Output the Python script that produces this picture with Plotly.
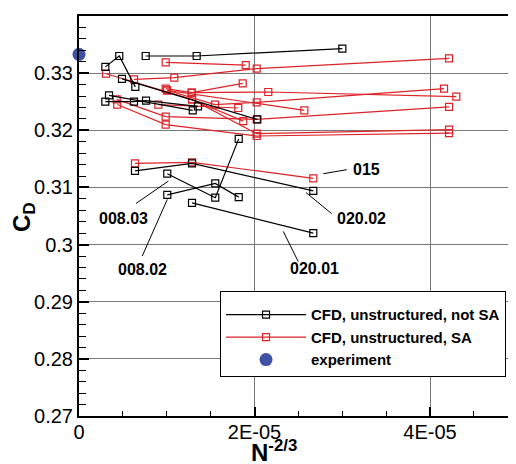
import plotly.graph_objects as go

# ---- data (x = N^-2/3, y = C_D) ----
# CFD, unstructured, not SA (black)
k1_x = [0.760e-5, 1.341e-5, 3.001e-5]; k1_y = [0.3330, 0.3330, 0.3343]
k2_x = [0.300e-5, 0.459e-5, 0.642e-5]; k2_y = [0.3311, 0.3330, 0.3276]
k3_x = [0.490e-5, 2.032e-5];           k3_y = [0.3290, 0.3219]
k4_x = [0.342e-5, 1.296e-5];           k4_y = [0.3261, 0.3235]
k5_x = [0.300e-5, 0.627e-5, 0.764e-5, 1.356e-5]; k5_y = [0.3250, 0.3250, 0.3252, 0.3242]
k_020_02_x = [0.638e-5, 1.288e-5, 2.670e-5]; k_020_02_y = [0.3129, 0.3142, 0.3094]
k_008_03_x = [1.006e-5, 1.553e-5, 1.820e-5]; k_008_03_y = [0.3124, 0.3082, 0.3185]
k_008_02_x = [1.006e-5, 1.553e-5, 1.820e-5]; k_008_02_y = [0.3087, 0.3107, 0.3083]
k_020_01_x = [1.288e-5, 2.670e-5];           k_020_01_y = [0.3073, 0.3020]

# CFD, unstructured, SA (red)
r_015_x = [0.638e-5, 1.288e-5, 2.670e-5]; r_015_y = [0.3142, 0.3144, 0.3116]
ra_x = [0.988e-5, 1.900e-5];                       ra_y = [0.3319, 0.3314]
rb_x = [0.627e-5, 1.086e-5, 2.025e-5, 4.217e-5];   rb_y = [0.3289, 0.3292, 0.3308, 0.3326]
rc_x = [0.988e-5, 1.284e-5, 2.157e-5, 4.300e-5];   rc_y = [0.3273, 0.3266, 0.3267, 0.3259]
rd_x = [1.003e-5, 1.550e-5, 2.025e-5, 4.160e-5];   rd_y = [0.3270, 0.3245, 0.3249, 0.3273]
re_x = [0.308e-5, 1.288e-5, 2.025e-5, 4.217e-5];   re_y = [0.3299, 0.3254, 0.3194, 0.3201]
rf_x = [0.436e-5, 0.988e-5, 2.025e-5, 4.217e-5];   rf_y = [0.3245, 0.3210, 0.3190, 0.3195]
rg_x = [0.430e-5, 0.988e-5, 2.025e-5, 4.217e-5];   rg_y = [0.3254, 0.3224, 0.3219, 0.3241]
rh_x = [0.904e-5, 1.815e-5]; rh_y = [0.3245, 0.3239]
ri_x = [1.284e-5, 1.866e-5]; ri_y = [0.3266, 0.3282]
rj_x = [1.288e-5, 1.872e-5]; rj_y = [0.3254, 0.3216]
rk_x = [1.003e-5, 2.568e-5]; rk_y = [0.3270, 0.3235]

# experiment
exp_x = [0.0]; exp_y = [0.3333]

# axis ticks
x_tickvals = [0, 2e-5, 4e-5]; x_ticktext = ["0", "2E-05", "4E-05"]
y_tickvals = [0.27, 0.28, 0.29, 0.30, 0.31, 0.32, 0.33, 0.34]
y_ticktext = ["0.27", "0.28", "0.29", "0.3", "0.31", "0.32", "0.33", "0.34"]

# case labels: (text, text x, text y, pointer x0, y0, x1, y1)
case_labels = [
    ("015",    3.271e-5, 0.3131, 2.784e-5, 0.3124, 3.051e-5, 0.3131),
    ("020.02", 3.214e-5, 0.3045, 2.587e-5, 0.3091, 2.880e-5, 0.3054),
    ("008.03", 0.505e-5, 0.3045, 0.650e-5, 0.3072, 1.018e-5, 0.3111),
    ("008.02", 0.724e-5, 0.2957, 0.721e-5, 0.2980, 1.006e-5, 0.3079),
    ("020.01", 2.678e-5, 0.2958, 2.328e-5, 0.3023, 2.499e-5, 0.2970),
]

BLACK = "#000000"
RED = "#dc2328"
BLUE = "#3f51a5"
FONT = "Liberation Sans, Arial, sans-serif"

fig = go.Figure()

red_series = [(r_015_x, r_015_y), (ra_x, ra_y), (rb_x, rb_y), (rc_x, rc_y), (rd_x, rd_y),
              (re_x, re_y), (rf_x, rf_y), (rg_x, rg_y), (rh_x, rh_y), (ri_x, ri_y),
              (rj_x, rj_y), (rk_x, rk_y)]
black_series = [(k1_x, k1_y), (k2_x, k2_y), (k3_x, k3_y), (k4_x, k4_y), (k5_x, k5_y),
                (k_020_02_x, k_020_02_y), (k_008_03_x, k_008_03_y),
                (k_008_02_x, k_008_02_y), (k_020_01_x, k_020_01_y)]

for i, (xs, ys) in enumerate(red_series):
    fig.add_trace(go.Scatter(
        x=xs, y=ys, mode="lines+markers",
        line=dict(color=RED, width=1.2),
        marker=dict(symbol="square-open", size=7, color=RED, line=dict(width=1.2, color=RED)),
        name="CFD, unstructured, SA", legendgroup="sa", showlegend=(i == 0), legendrank=2,
    ))

for i, (xs, ys) in enumerate(black_series):
    fig.add_trace(go.Scatter(
        x=xs, y=ys, mode="lines+markers",
        line=dict(color=BLACK, width=1.2),
        marker=dict(symbol="square-open", size=7, color=BLACK, line=dict(width=1.2, color=BLACK)),
        name="CFD, unstructured, not SA", legendgroup="nsa", showlegend=(i == 0), legendrank=1,
    ))

fig.add_trace(go.Scatter(
    x=exp_x, y=exp_y, mode="markers", cliponaxis=False,
    marker=dict(symbol="circle", size=13, color=BLUE),
    name="experiment", legendrank=3,
))

shapes = []
annotations = []
for text, tx, ty, x0, y0, x1, y1 in case_labels:
    shapes.append(dict(type="line", xref="x", yref="y", x0=x0, y0=y0, x1=x1, y1=y1,
                       line=dict(color=BLACK, width=1)))
    annotations.append(dict(text="<b>%s</b>" % text, x=tx, y=ty, xref="x", yref="y",
                            xanchor="center", yanchor="middle",
                            showarrow=False, font=dict(family=FONT, size=16, color=BLACK)))

annotations.append(dict(text="<b>C<sub>D</sub></b>", textangle=-90, xref="paper", yref="paper",
                        x=-0.126, y=0.4975, xanchor="center", yanchor="middle", showarrow=False,
                        font=dict(family=FONT, size=24, color=BLACK)))
annotations.append(dict(text="<b>N<sup>-2/3</sup></b>", xref="paper", yref="paper",
                        x=0.446, y=-0.088, xanchor="center", yanchor="middle", showarrow=False,
                        font=dict(family=FONT, size=24, color=BLACK)))

fig.update_layout(
    width=508, height=456,
    margin=dict(l=71, r=0, t=8, b=48),
    plot_bgcolor="white", paper_bgcolor="white",
    font=dict(family=FONT, size=20, color=BLACK),
    shapes=shapes, annotations=annotations,
    legend=dict(
        x=0.3227, y=0.313, xanchor="left", yanchor="top",
        bgcolor="white", bordercolor=BLACK, borderwidth=1,
        font=dict(family=FONT, size=15, color=BLACK, weight="bold"),
        itemwidth=80, tracegroupgap=0,
        title=dict(text=" ", font=dict(size=5)),
    ),
    xaxis=dict(
        range=[0, 4.98e-5], tickvals=x_tickvals, ticktext=x_ticktext,
        ticks="inside", ticklen=9, tickwidth=2, tickcolor=BLACK,
        showline=True, linecolor=BLACK, linewidth=2, mirror=True,
        showgrid=True, gridcolor="#7a7a7a", gridwidth=1.2, zeroline=False,
        minor=dict(dtick=5e-6, tick0=0, ticks="inside", ticklen=5, tickwidth=1.3,
                   tickcolor=BLACK, showgrid=False),
        tickfont=dict(family=FONT, size=20, color=BLACK),
        ticklabelstandoff=-3,
    ),
    yaxis=dict(
        range=[0.27, 0.34], tickvals=y_tickvals, ticktext=y_ticktext,
        ticks="inside", ticklen=10, tickwidth=2, tickcolor=BLACK,
        showline=True, linecolor=BLACK, linewidth=2, mirror=False,
        showgrid=True, gridcolor="#7a7a7a", gridwidth=1.2, zeroline=False,
        minor=dict(dtick=0.002, tick0=0.27, ticks="inside", ticklen=7, tickwidth=1.3,
                   tickcolor=BLACK, showgrid=False),
        tickfont=dict(family=FONT, size=20, color=BLACK),
    ),
)

fig.write_html("out.html")
